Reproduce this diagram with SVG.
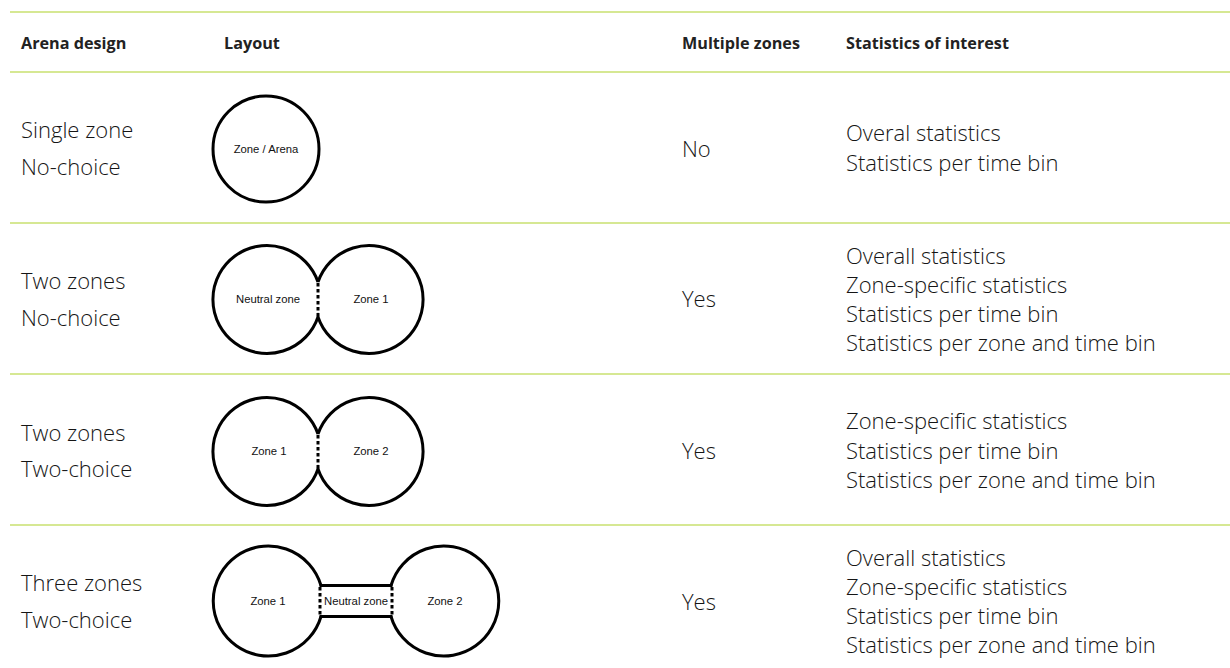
<svg xmlns="http://www.w3.org/2000/svg" width="1230" height="668" viewBox="0 0 1230 668">
<style>
.rule{stroke:#c9e06f;stroke-width:1.6;fill:none}
.hd{font-family:"Open Sans","Noto Sans",sans-serif;font-weight:bold;font-size:16.2px;fill:#222}
.tx{font-family:"Open Sans","Noto Sans",sans-serif;font-weight:300;font-size:22px;fill:#151515}
.zl{font-family:"Liberation Sans",Arial,sans-serif;font-size:11.3px;fill:#111;text-anchor:middle}
.ol{fill:none;stroke:#000;stroke-width:3}
.dot{fill:none;stroke:#000;stroke-width:3;stroke-dasharray:3.5 2.5}
</style>
<rect width="1230" height="668" fill="#fff"/>
<g id="rules">
<line class="rule" x1="10" y1="12" x2="1230" y2="12"/>
<line class="rule" x1="10" y1="72" x2="1230" y2="72"/>
<line class="rule" x1="10" y1="223" x2="1230" y2="223"/>
<line class="rule" x1="10" y1="374" x2="1230" y2="374"/>
<line class="rule" x1="10" y1="525" x2="1230" y2="525"/>
</g>
<g id="header">
<text class="hd" x="21" y="48.5">Arena design</text>
<text class="hd" x="224" y="48.5">Layout</text>
<text class="hd" x="682" y="48.5">Multiple zones</text>
<text class="hd" x="846" y="48.5">Statistics of interest</text>
</g>
<g id="row1">
<text class="tx" x="21" y="137.5">Single zone</text>
<text class="tx" x="21" y="174.5">No-choice</text>
<circle class="ol" cx="266" cy="149" r="53"/>
<text class="zl" x="266" y="153">Zone / Arena</text>
<text class="tx" x="682" y="156.5">No</text>
<text class="tx" x="846" y="140.5">Overal statistics</text>
<text class="tx" x="846" y="170.5">Statistics per time bin</text>
</g>
<g id="row2">
<text class="tx" x="21" y="288.5">Two zones</text>
<text class="tx" x="21" y="325.5">No-choice</text>
<path class="ol" d="M318,282 A54,54 0 1,0 318,317 A54,54 0 1,0 318,282"/>
<line class="dot" x1="318" y1="283" x2="318" y2="317"/>
<text class="zl" x="268" y="303">Neutral zone</text>
<text class="zl" x="371" y="303">Zone 1</text>
<text class="tx" x="682" y="306.5">Yes</text>
<text class="tx" x="846" y="263.5">Overall statistics</text>
<text class="tx" x="846" y="292.5">Zone-specific statistics</text>
<text class="tx" x="846" y="321.5">Statistics per time bin</text>
<text class="tx" x="846" y="350.5">Statistics per zone and time bin</text>
</g>
<g id="row3">
<text class="tx" x="21" y="440.5">Two zones</text>
<text class="tx" x="21" y="476.5">Two-choice</text>
<path class="ol" d="M318,434 A54,54 0 1,0 318,469 A54,54 0 1,0 318,434"/>
<line class="dot" x1="318" y1="435" x2="318" y2="469"/>
<text class="zl" x="269" y="455">Zone 1</text>
<text class="zl" x="371" y="455">Zone 2</text>
<text class="tx" x="682" y="458.5">Yes</text>
<text class="tx" x="846" y="428.5">Zone-specific statistics</text>
<text class="tx" x="846" y="458.5">Statistics per time bin</text>
<text class="tx" x="846" y="487.5">Statistics per zone and time bin</text>
</g>
<g id="row4">
<text class="tx" x="21" y="590.5">Three zones</text>
<text class="tx" x="21" y="627.5">Two-choice</text>
<path class="ol" d="M321,585.5 A55,55 0 1,0 321,616.5"/>
<path class="ol" d="M391,616.5 A55,55 0 1,0 391,585.5"/>
<path class="ol" d="M319.5,585.5 L392.5,585.5 M319.5,616.5 L392.5,616.5"/>
<line class="dot" x1="320" y1="587" x2="320" y2="615"/>
<line class="dot" x1="392" y1="587" x2="392" y2="615"/>
<text class="zl" x="268" y="605">Zone 1</text>
<text class="zl" x="356" y="605">Neutral zone</text>
<text class="zl" x="445" y="605">Zone 2</text>
<text class="tx" x="682" y="609.5">Yes</text>
<text class="tx" x="846" y="565.5">Overall statistics</text>
<text class="tx" x="846" y="594.5">Zone-specific statistics</text>
<text class="tx" x="846" y="623.5">Statistics per time bin</text>
<text class="tx" x="846" y="652.5">Statistics per zone and time bin</text>
</g>
</svg>
